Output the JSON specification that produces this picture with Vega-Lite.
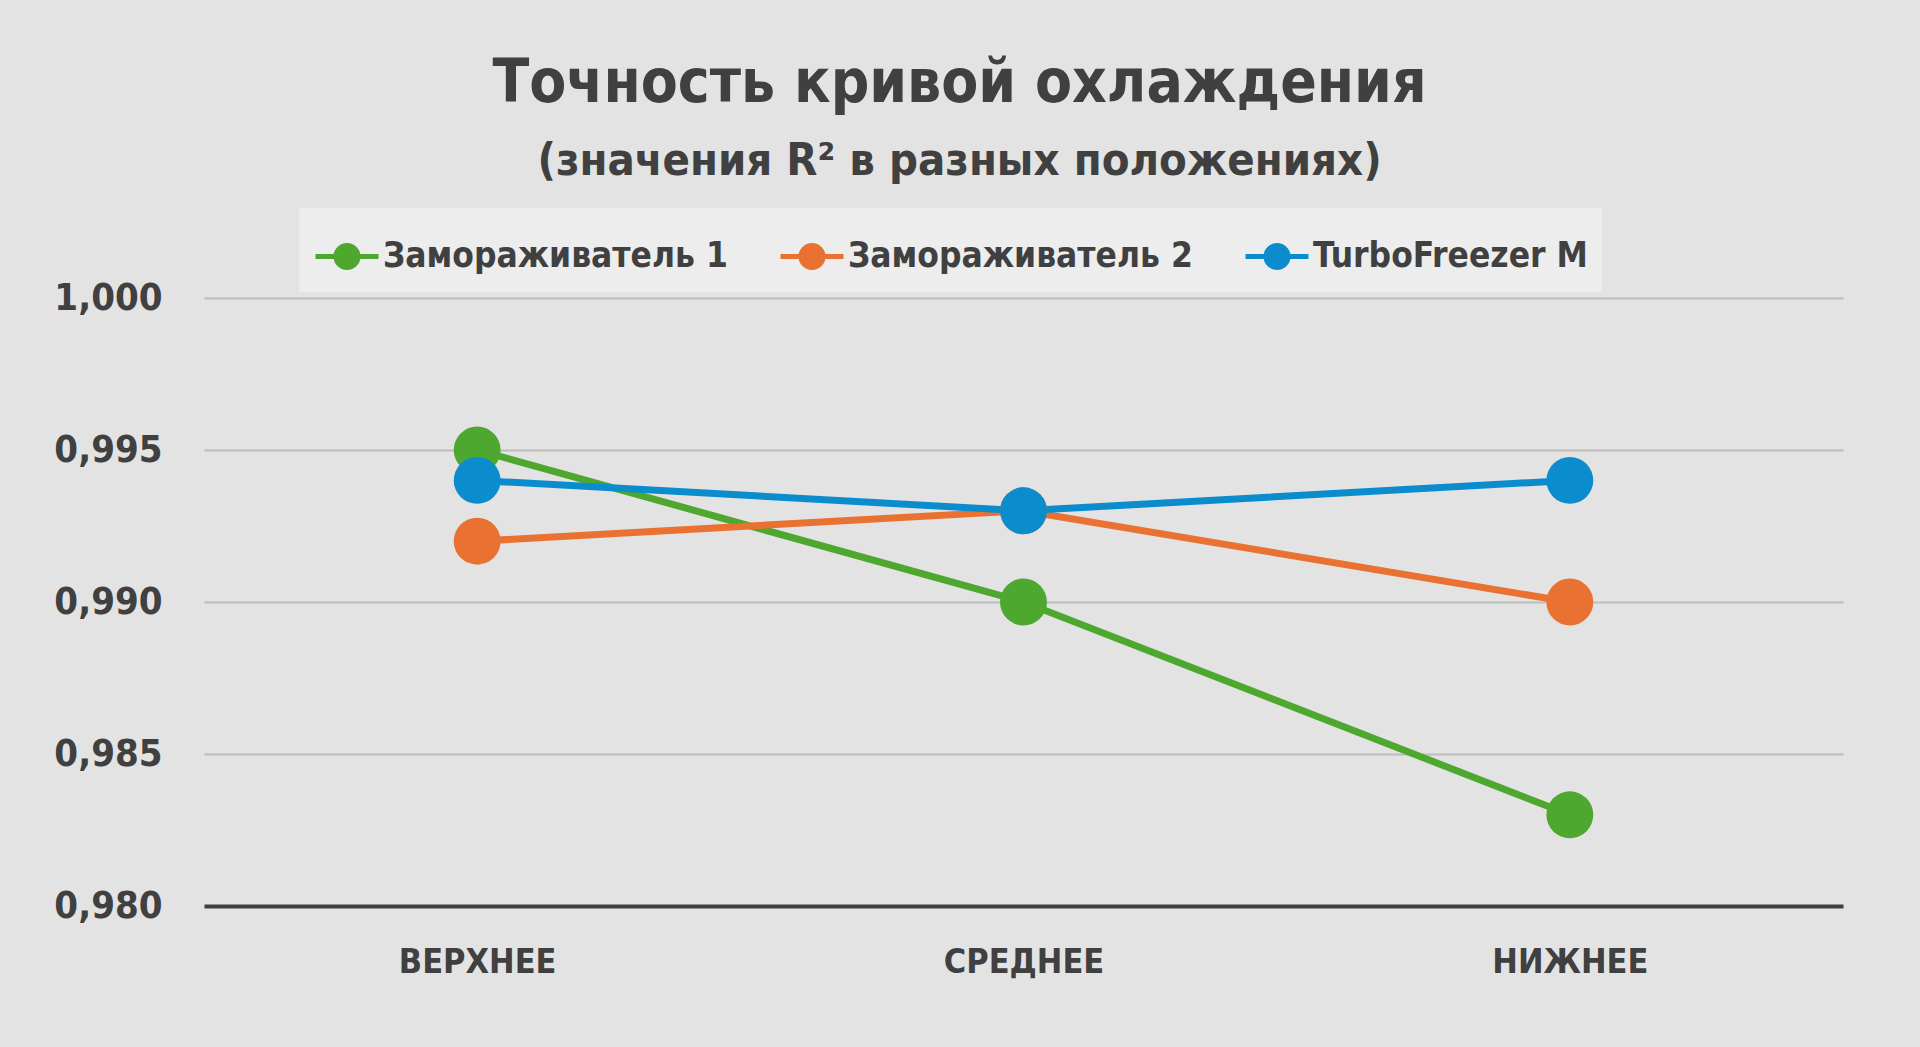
{
  "$schema": "https://vega.github.io/schema/vega-lite/v6.json",
  "autosize": {"type": "none"},
  "width": 1639,
  "height": 608,
  "padding": {"left": 204, "top": 298, "right": 77, "bottom": 141},
  "background": "#e3e3e3",
  "title": {
    "text": "Точность кривой охлаждения",
    "subtitle": "(значения R² в разных положениях)",
    "anchor": "middle",
    "dx": -64,
    "offset": 23,
    "font": "DejaVu Sans Condensed, sans-serif",
    "fontSize": 60,
    "fontWeight": "bold",
    "color": "#404040",
    "subtitleFont": "DejaVu Sans Condensed, sans-serif",
    "subtitleFontSize": 45,
    "subtitleFontWeight": "bold",
    "subtitleColor": "#404040",
    "subtitlePadding": 24
  },
  "data": {
    "values": [
      {"pos": "ВЕРХНЕЕ", "series": "Замораживатель 1", "r2": 0.995},
      {"pos": "СРЕДНЕЕ", "series": "Замораживатель 1", "r2": 0.990},
      {"pos": "НИЖНЕЕ", "series": "Замораживатель 1", "r2": 0.983},
      {"pos": "ВЕРХНЕЕ", "series": "Замораживатель 2", "r2": 0.992},
      {"pos": "СРЕДНЕЕ", "series": "Замораживатель 2", "r2": 0.993},
      {"pos": "НИЖНЕЕ", "series": "Замораживатель 2", "r2": 0.990},
      {"pos": "ВЕРХНЕЕ", "series": "TurboFreezer M", "r2": 0.994},
      {"pos": "СРЕДНЕЕ", "series": "TurboFreezer M", "r2": 0.993},
      {"pos": "НИЖНЕЕ", "series": "TurboFreezer M", "r2": 0.994}
    ]
  },
  "encoding": {
    "x": {
      "field": "pos",
      "type": "nominal",
      "sort": ["ВЕРХНЕЕ", "СРЕДНЕЕ", "НИЖНЕЕ"],
      "scale": {"type": "point", "padding": 0.5},
      "axis": {
        "title": null,
        "labelAngle": 0,
        "labelFontSize": 34,
        "labelPadding": 39,
        "labelLimit": 600,
        "ticks": false,
        "grid": false,
        "domainColor": "#404040",
        "domainWidth": 4
      }
    },
    "y": {
      "field": "r2",
      "type": "quantitative",
      "scale": {"domain": [0.98, 1.0], "nice": false, "zero": false},
      "axis": {
        "title": null,
        "values": [0.98, 0.985, 0.99, 0.995, 1.0],
        "labelExpr": "replace(format(datum.value, '.3f'), '.', ',')",
        "labelFontSize": 38,
        "labelPadding": 42,
        "ticks": false,
        "domain": false,
        "gridColor": "#000000",
        "gridOpacity": 0.17,
        "gridWidth": 2
      }
    },
    "color": {
      "field": "series",
      "type": "nominal",
      "sort": ["Замораживатель 1", "Замораживатель 2", "TurboFreezer M"],
      "scale": {
        "domain": ["Замораживатель 1", "Замораживатель 2", "TurboFreezer M"],
        "range": ["#4EA72E", "#E97132", "#0B8DCD"]
      },
      "legend": {
        "title": null,
        "orient": "none",
        "direction": "horizontal",
        "legendX": 95,
        "legendY": -90,
        "padding": 14,
        "fillColor": "#ededed",
        "symbolType": "M-1,0H1M-0.35,0A0.35,0.35 0 1,0 0.35,0A0.35,0.35 0 1,0 -0.35,0Z",
        "symbolSize": 3969,
        "symbolStrokeWidth": 5,
        "labelFontSize": 35,
        "labelOffset": 2,
        "columnPadding": 42,
        "labelLimit": 600
      }
    }
  },
  "layer": [
    {
      "mark": {"type": "line", "strokeWidth": 7}
    },
    {
      "mark": {"type": "circle", "size": 2200, "opacity": 1}
    }
  ],
  "config": {
    "font": "DejaVu Sans Condensed, sans-serif",
    "axis": {"labelFontWeight": "bold", "labelColor": "#404040"},
    "legend": {"labelFontWeight": "bold", "labelColor": "#404040"},
    "view": {"stroke": null}
  }
}
